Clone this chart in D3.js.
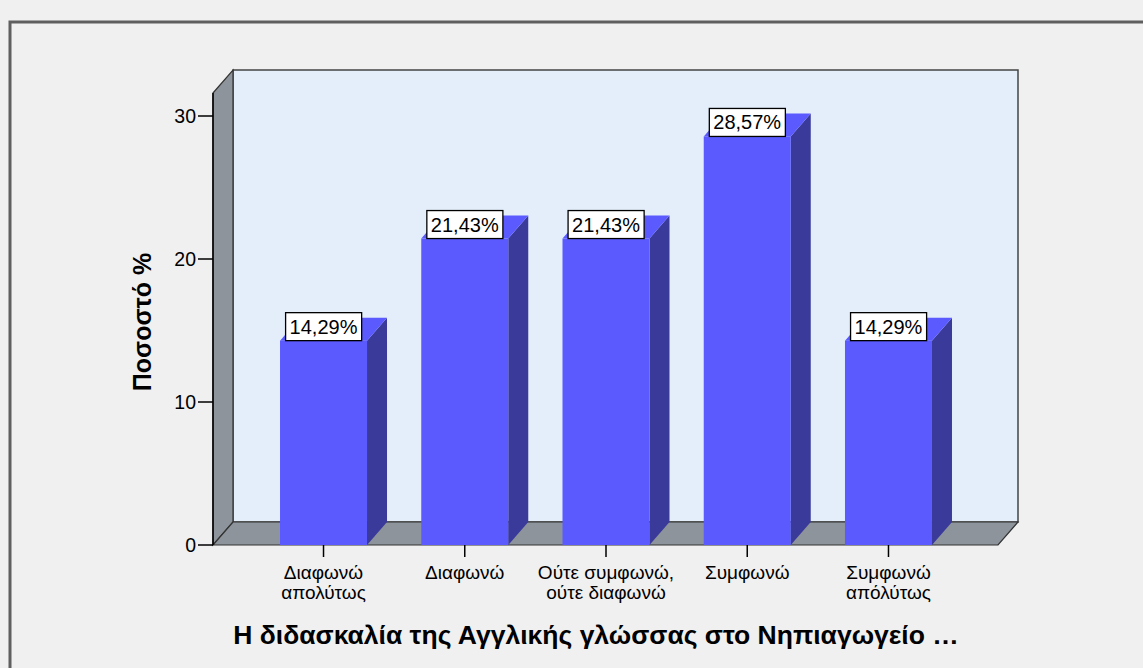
<!DOCTYPE html>
<html>
<head>
<meta charset="utf-8">
<script src="https://cdn.jsdelivr.net/npm/d3@7"></script>
<style>
    body { margin: 0; background: #f0f0f0; }
    svg { display: block; }
    text { font-family: "Liberation Sans", Arial, sans-serif; fill: #000; }
</style>
</head>
<body>
<div id="chart"></div>
<script>
// --- Data ---
const categories = [
    ['Διαφωνώ', 'απολύτως'],
    ['Διαφωνώ'],
    ['Ούτε συμφωνώ,', 'ούτε διαφωνώ'],
    ['Συμφωνώ'],
    ['Συμφωνώ', 'απόλύτως']
];
const percents = [14.29, 21.43, 21.43, 28.57, 14.29];
const yTicks = [0, 10, 20, 30];
const yTitle = 'Ποσοστό %';
const xTitle = 'Η διδασκαλία της Αγγλικής γλώσσας στο Νηπιαγωγείο …';

// --- Layout ---
const width = 1143, height = 668;
const front = { left: 213, right: 998, bottom: 545 };
const depth = { dx: 20, dy: -23 };
const wallTop = 70;

const svg = d3.select('#chart').append('svg')
    .attr('width', width)
    .attr('height', height);

const x = d3.scaleBand()
    .domain(d3.range(categories.length))
    .range([252.9, 959.1])
    .paddingInner(0.384)
    .paddingOuter(0.192);

const y = d3.scaleLinear().domain([0, 30]).range([front.bottom, 116]);

// outer frame (only left/top edges visible)
svg.append('path')
    .attr('d', `M10,${height + 5} L10,22 L${width + 5},22`)
    .attr('fill', 'none')
    .attr('stroke', '#5f5f5f')
    .attr('stroke-width', 3);

// --- 3D box: back wall, left wall, floor ---
const pt = (px, py) => [px, py];
const bx = front.left + depth.dx, by = front.bottom + depth.dy;

svg.append('polygon')
    .attr('points', [pt(bx, wallTop), pt(front.right + depth.dx, wallTop), pt(front.right + depth.dx, by), pt(bx, by)].join(' '))
    .attr('fill', '#e3eefa')
    .attr('stroke', '#444').attr('stroke-width', 1.5);

svg.append('polygon')
    .attr('points', [pt(front.left, wallTop - depth.dy), pt(bx, wallTop), pt(bx, by), pt(front.left, front.bottom)].join(' '))
    .attr('fill', '#8d949b')
    .attr('stroke', '#333').attr('stroke-width', 1.2);

svg.append('polygon')
    .attr('points', [pt(front.left, front.bottom), pt(front.right, front.bottom), pt(front.right + depth.dx, by), pt(bx, by)].join(' '))
    .attr('fill', '#8d949b')
    .attr('stroke', '#333').attr('stroke-width', 1.2);

// --- Bars ---
const bars = svg.append('g').selectAll('g')
    .data(percents)
    .enter().append('g');

bars.append('polygon') // side
    .attr('points', (d, i) => {
        const x1 = x(i) + x.bandwidth(), yt = y(d);
        return [pt(x1, yt), pt(x1 + depth.dx, yt + depth.dy), pt(x1 + depth.dx, front.bottom + depth.dy), pt(x1, front.bottom)].join(' ');
    })
    .attr('fill', '#3a3a9a');

bars.append('polygon') // top
    .attr('points', (d, i) => {
        const x0 = x(i), x1 = x0 + x.bandwidth(), yt = y(d);
        return [pt(x0, yt), pt(x1, yt), pt(x1 + depth.dx, yt + depth.dy), pt(x0 + depth.dx, yt + depth.dy)].join(' ');
    })
    .attr('fill', '#5a5aff');

bars.append('rect') // front
    .attr('x', (d, i) => x(i))
    .attr('y', d => y(d))
    .attr('width', x.bandwidth())
    .attr('height', d => front.bottom - y(d))
    .attr('fill', '#5a5aff');

// --- Y axis ---
svg.append('line')
    .attr('x1', front.left).attr('x2', front.left)
    .attr('y1', wallTop - depth.dy).attr('y2', front.bottom)
    .attr('stroke', '#000').attr('stroke-width', 1.5);

const yAxis = svg.append('g');
yAxis.selectAll('line')
    .data(yTicks)
    .enter().append('line')
    .attr('x1', 198).attr('x2', front.left)
    .attr('y1', d => y(d)).attr('y2', d => y(d))
    .attr('stroke', '#000').attr('stroke-width', 1.5);
yAxis.selectAll('text')
    .data(yTicks)
    .enter().append('text')
    .attr('x', 196)
    .attr('y', d => y(d) + 7)
    .attr('text-anchor', 'end')
    .style('font-size', '19.5px')
    .text(d => d);

svg.append('text')
    .attr('transform', 'translate(151,322) rotate(-90)')
    .attr('text-anchor', 'middle')
    .style('font-size', '25px').style('font-weight', 'bold')
    .text(yTitle);

// --- X axis ticks & labels ---
const xAxis = svg.append('g');
xAxis.selectAll('line')
    .data(categories)
    .enter().append('line')
    .attr('x1', (d, i) => x(i) + x.bandwidth() / 2)
    .attr('x2', (d, i) => x(i) + x.bandwidth() / 2)
    .attr('y1', front.bottom).attr('y2', 557)
    .attr('stroke', '#000').attr('stroke-width', 1.5);

xAxis.selectAll('text')
    .data(categories)
    .enter().append('text')
    .attr('text-anchor', 'middle')
    .style('font-size', '19px')
    .each(function (d, i) {
        d3.select(this).selectAll('tspan')
            .data(d)
            .enter().append('tspan')
            .attr('x', x(i) + x.bandwidth() / 2)
            .attr('y', (t, j) => 579 + j * 20)
            .text(t => t);
    });

svg.append('text')
    .attr('x', 596).attr('y', 644)
    .attr('text-anchor', 'middle')
    .style('font-size', '26.5px').style('font-weight', 'bold')
    .text(xTitle);

// --- Value labels ---
const fmt = v => v.toFixed(2).replace('.', ',') + '%';
const labels = svg.append('g').selectAll('g')
    .data(percents)
    .enter().append('g');

labels.append('text')
    .attr('x', (d, i) => x(i) + x.bandwidth() / 2)
    .attr('y', d => y(d) - 7)
    .attr('text-anchor', 'middle')
    .style('font-size', '20px')
    .text(fmt);

labels.insert('rect', 'text')
    .each(function (d) {
        const bb = this.parentNode.querySelector('text').getBBox();
        d3.select(this)
            .attr('x', bb.x - 4)
            .attr('y', y(d) - 28)
            .attr('width', bb.width + 8)
            .attr('height', 28);
    })
    .attr('fill', '#fff')
    .attr('stroke', '#000')
    .attr('stroke-width', 1.3);
</script>
</body>
</html>
